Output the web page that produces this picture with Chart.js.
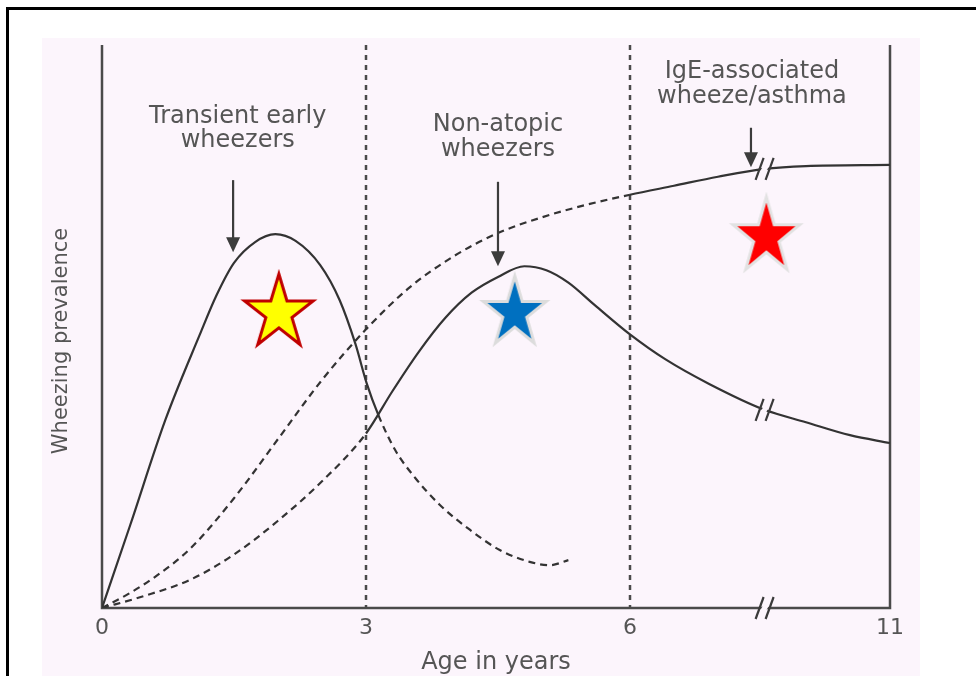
<!DOCTYPE html>
<html>
<head>
<meta charset="utf-8">
<script src="https://cdn.jsdelivr.net/npm/chart.js@4.4.1/dist/chart.umd.min.js"></script>
<style>
  html, body { margin: 0; padding: 0; background: #fff; }
  #wrap { width: 976px; height: 676px; }
</style>
</head>
<body>
<div id="wrap"><canvas id="wheezeChart" width="976" height="676"></canvas></div>
<script>
// x values are positions on the drawn (broken) age axis: 0..6 are years, the tail is squeezed up to age 11
const tickPos = [0, 3, 6, 8.955];
const tickLabels = ['0', '3', '6', '11'];
const dividerAges = [3, 6];

// transient early wheezers (solid, dashed after ~3 yrs)
const transientX = [0, 0.32, 0.72, 1.11, 1.3, 1.5, 1.74, 1.97, 2.2, 2.48, 2.7, 2.88, 3.01, 3.14, 3.33, 3.56, 3.84, 4.18, 4.52, 4.86, 5.09, 5.3];
const transientY = [0, 14.7, 33.4, 48.5, 55.5, 61.3, 65.0, 66.4, 65.2, 60.9, 54.7, 46.9, 39.8, 34.3, 28.1, 23.1, 18.3, 13.9, 10.3, 8.2, 7.6, 8.5];
const transientSolidUntil = 3.14;

// non-atopic wheezers (dashed until 3, then solid)
const nonAtopicX = [0, 0.45, 1.0, 1.5, 2.0, 2.5, 3.0, 3.3, 3.6, 3.9, 4.2, 4.5, 4.8, 5.05, 5.3, 5.6, 6.0, 6.4, 6.9, 7.53, 8.0, 8.5, 8.955];
const nonAtopicY = [0, 2.0, 5.0, 9.5, 15.5, 22.5, 31.0, 38.5, 45.5, 51.5, 56.0, 58.8, 60.7, 60.0, 57.8, 53.8, 48.6, 44.2, 39.8, 35.2, 33.0, 30.7, 29.3];
const nonAtopicDashedUntil = 3.0;

// IgE-associated wheeze/asthma (dashed until 6, then solid)
const igeX = [0, 0.3, 0.6, 1.0, 1.5, 2.0, 2.5, 3.0, 3.5, 4.0, 4.5, 5.0, 5.5, 6.0, 6.5, 7.0, 7.53, 8.0, 8.955];
const igeY = [0, 2.5, 5.5, 10.5, 19.5, 30.0, 40.5, 49.5, 57.0, 62.5, 66.6, 69.4, 71.6, 73.4, 75.0, 76.6, 78.0, 78.5, 78.7];
const igeDashedUntil = 6.0;

// stars
const starX = [2.01, 4.69, 7.55];
const starY = [52.4, 52.4, 65.9];

// annotations
const noteLines = [['Transient early', 'wheezers'], ['Non-atopic', 'wheezers'], ['IgE-associated', 'wheeze/asthma']];
const yTitle = 'Wheezing prevalence';
const breakAt = 7.53;
const breakCurveY = [35.2, 78.0];

function pairs(xs, ys) { return xs.map((x, i) => ({ x: x, y: ys[i] })); }

function makeStar(rx, ry, fill, stroke, lw) {
  const c = document.createElement('canvas');
  c.width = Math.ceil(2 * rx + 2 * lw + 4);
  c.height = Math.ceil(2 * ry + 2 * lw + 4);
  const g = c.getContext('2d');
  const cx = c.width / 2, cy = c.height / 2;
  g.beginPath();
  for (let i = 0; i < 10; i++) {
    const a = -Math.PI / 2 + i * Math.PI / 5;
    const r = i % 2 === 0 ? 1 : 0.382;
    const px = cx + Math.cos(a) * rx * r, py = cy + Math.sin(a) * ry * r;
    if (i === 0) g.moveTo(px, py); else g.lineTo(px, py);
  }
  g.closePath();
  g.fillStyle = fill;
  g.fill();
  g.lineJoin = 'miter';
  g.lineWidth = lw;
  g.strokeStyle = stroke;
  g.stroke();
  return c;
}

const starStyles = [
  makeStar(36, 39, '#ffff00', '#c00000', 3),
  makeStar(33, 37, '#0070c0', '#dcdcdc', 3),
  makeStar(35, 40, '#ff0000', '#e2e2e2', 3)
];

const frame = {
  id: 'frame',
  beforeDraw(chart) {
    const { ctx } = chart;
    ctx.save();
    ctx.fillStyle = '#ffffff';
    ctx.fillRect(0, 0, chart.width, chart.height);
    ctx.fillStyle = '#fcf5fc';
    ctx.fillRect(42, 38, 878, 638);
    ctx.fillStyle = '#000';
    ctx.fillRect(6, 7, 970, 3);
    ctx.fillRect(6, 7, 3, 669);
    ctx.restore();
  },
  beforeDatasetsDraw(chart) {
    const { ctx, chartArea: { top, bottom, left, right }, scales: { x } } = chart;
    ctx.save();
    ctx.strokeStyle = '#4a4a4a';
    ctx.lineWidth = 2.5;
    ctx.setLineDash([5, 5]);
    dividerAges.forEach(v => {
      const px = Math.round(x.getPixelForValue(v));
      ctx.beginPath(); ctx.moveTo(px, top); ctx.lineTo(px, bottom); ctx.stroke();
    });
    ctx.setLineDash([]);
    ctx.beginPath();
    ctx.moveTo(left, top); ctx.lineTo(left, bottom); ctx.lineTo(right, bottom); ctx.lineTo(right, top);
    ctx.stroke();
    // y axis title
    ctx.translate(62, 341);
    ctx.rotate(-Math.PI / 2);
    ctx.fillStyle = '#555';
    ctx.font = '21px "DejaVu Sans"';
    ctx.textAlign = 'center';
    ctx.textBaseline = 'middle';
    ctx.fillText(yTitle, 0, 0);
    ctx.restore();
  }
};

function drawBreak(ctx, px, py) {
  ctx.fillStyle = '#fcf5fc';
  ctx.beginPath();
  ctx.moveTo(px - 7, py + 6); ctx.lineTo(px + 1, py - 6); ctx.lineTo(px + 7, py - 6); ctx.lineTo(px - 1, py + 6);
  ctx.closePath();
  ctx.fill();
  ctx.strokeStyle = '#3a3a3a';
  ctx.lineWidth = 2.2;
  [-5, 5].forEach(d => {
    ctx.beginPath();
    ctx.moveTo(px + d - 4, py + 11);
    ctx.lineTo(px + d + 4, py - 11);
    ctx.stroke();
  });
}

const notes = {
  id: 'notes',
  afterDatasetsDraw(chart) {
    const { ctx, chartArea: { bottom }, scales: { x, y } } = chart;
    ctx.save();
    // breaks
    const bx = x.getPixelForValue(breakAt);
    drawBreak(ctx, bx, bottom);
    breakCurveY.forEach(v => drawBreak(ctx, bx, y.getPixelForValue(v)));

    // arrows
    const arrows = [[1.49, 76.0, 63.2], [4.5, 75.7, 60.7], [7.375, 85.3, 78.3]];
    ctx.strokeStyle = '#3c3c3c';
    ctx.fillStyle = '#3c3c3c';
    ctx.lineWidth = 2.2;
    arrows.forEach(([ax, a0, a1]) => {
      const px = x.getPixelForValue(ax), y0 = y.getPixelForValue(a0), y1 = y.getPixelForValue(a1);
      ctx.beginPath(); ctx.moveTo(px, y0); ctx.lineTo(px, y1 - 12); ctx.stroke();
      ctx.beginPath(); ctx.moveTo(px - 7, y1 - 15); ctx.lineTo(px + 7, y1 - 15); ctx.lineTo(px, y1); ctx.closePath(); ctx.fill();
    });

    // labels
    const spots = [[1.543, 86.1, 81.9], [4.5, 84.7, 80.3], [7.386, 94.1, 89.7]];
    ctx.fillStyle = '#555';
    ctx.font = '24px "DejaVu Sans"';
    ctx.textAlign = 'center';
    ctx.textBaseline = 'alphabetic';
    spots.forEach(([sx, l1, l2], i) => {
      const px = x.getPixelForValue(sx);
      ctx.fillText(noteLines[i][0], px, y.getPixelForValue(l1));
      ctx.fillText(noteLines[i][1], px, y.getPixelForValue(l2));
    });
    ctx.restore();
  }
};

function dashAfter(limit) {
  return c => (c.p0.parsed.x >= limit - 1e-6 ? [7, 5] : undefined);
}
function dashBefore(limit) {
  return c => (c.p1.parsed.x <= limit + 1e-6 ? [7, 5] : undefined);
}

const lineBase = {
  type: 'line',
  borderColor: '#333',
  borderWidth: 2.2,
  pointRadius: 0,
  fill: false,
  cubicInterpolationMode: 'monotone'
};

new Chart(document.getElementById('wheezeChart').getContext('2d'), {
  data: {
    datasets: [
      Object.assign({}, lineBase, { label: 'Transient early wheezers', data: pairs(transientX, transientY), segment: { borderDash: dashAfter(transientSolidUntil) } }),
      Object.assign({}, lineBase, { label: 'Non-atopic wheezers', data: pairs(nonAtopicX, nonAtopicY), segment: { borderDash: dashBefore(nonAtopicDashedUntil) } }),
      Object.assign({}, lineBase, { label: 'IgE-associated wheeze/asthma', data: pairs(igeX, igeY), segment: { borderDash: dashBefore(igeDashedUntil) } }),
      {
        type: 'scatter',
        label: 'stars',
        data: pairs(starX, starY),
        pointStyle: starStyles,
        pointRadius: 30,
        showLine: false
      }
    ]
  },
  options: {
    responsive: false,
    animation: false,
    events: [],
    layout: { padding: { left: 102, right: 86, top: 45, bottom: 0 } },
    plugins: { legend: { display: false }, tooltip: { enabled: false } },
    scales: {
      x: {
        type: 'linear',
        min: 0,
        max: 8.955,
        afterBuildTicks: scale => { scale.ticks = tickPos.map(v => ({ value: v })); },
        grid: { display: false, drawTicks: false },
        border: { display: false },
        ticks: {
          autoSkip: false,
          maxRotation: 0,
          padding: 9,
          color: '#555',
          font: { family: 'DejaVu Sans', size: 22, lineHeight: 1 },
          callback: (v, i) => tickLabels[i]
        },
        title: {
          display: true,
          text: 'Age in years',
          color: '#555',
          font: { family: 'DejaVu Sans', size: 24, lineHeight: 1 },
          padding: { top: 3, bottom: 1 }
        }
      },
      y: {
        display: false,
        min: 0,
        max: 100
      }
    }
  },
  plugins: [frame, notes]
});
</script>
</body>
</html>
